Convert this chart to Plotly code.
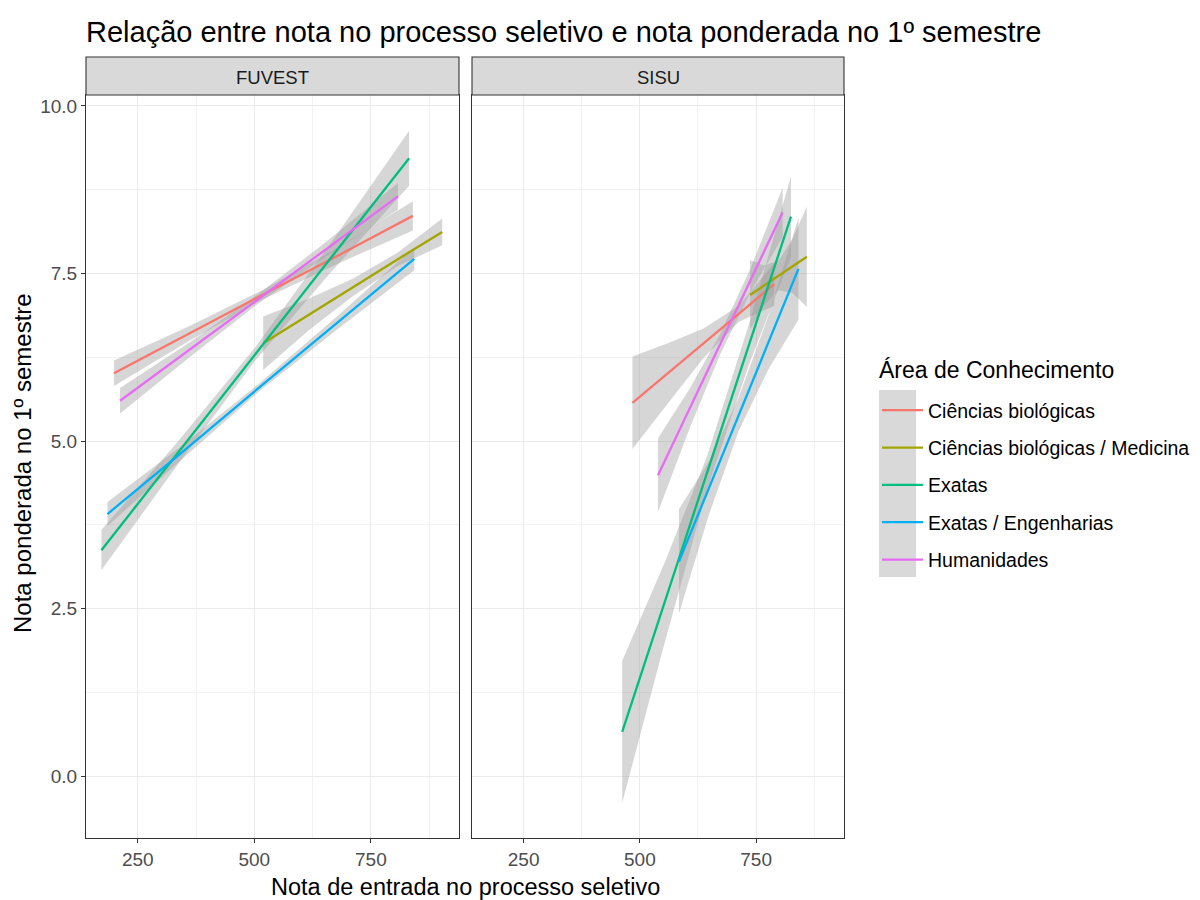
import plotly.graph_objects as go

# ---------------- data ----------------
areas = ["Ciências biológicas", "Ciências biológicas / Medicina", "Exatas",
         "Exatas / Engenharias", "Humanidades"]
colors = ["#F8766D", "#A3A500", "#00BF7D", "#00B0F6", "#E76BF3"]
panels = ["FUVEST", "SISU"]

# FUVEST
fuvest_bio_x = [199, 359, 520, 680, 840]
fuvest_bio_fit = [6.01, 6.60, 7.19, 7.77, 8.36]
fuvest_bio_lo = [5.82, 6.49, 7.12, 7.65, 8.14]
fuvest_bio_hi = [6.20, 6.71, 7.26, 7.89, 8.58]

fuvest_med_x = [519, 615, 711, 807, 903]
fuvest_med_fit = [6.46, 6.88, 7.29, 7.71, 8.12]
fuvest_med_lo = [6.06, 6.64, 7.16, 7.61, 7.92]
fuvest_med_hi = [6.86, 7.12, 7.42, 7.81, 8.32]

fuvest_exa_x = [172, 337, 502, 667, 832]
fuvest_exa_fit = [3.37, 4.83, 6.30, 7.76, 9.22]
fuvest_exa_lo = [3.07, 4.66, 6.20, 7.54, 8.81]
fuvest_exa_hi = [3.67, 5.00, 6.40, 7.98, 9.63]

fuvest_eng_x = [185, 350, 514, 679, 843]
fuvest_eng_fit = [3.91, 4.86, 5.82, 6.77, 7.72]
fuvest_eng_lo = [3.73, 4.76, 5.76, 6.67, 7.55]
fuvest_eng_hi = [4.09, 4.96, 5.88, 6.87, 7.89]

fuvest_hum_x = [212, 361, 510, 659, 808]
fuvest_hum_fit = [5.60, 6.36, 7.13, 7.89, 8.65]
fuvest_hum_lo = [5.41, 6.25, 7.06, 7.78, 8.45]
fuvest_hum_hi = [5.79, 6.47, 7.20, 8.00, 8.85]

# SISU
sisu_bio_x = [484, 560, 637, 713, 789]
sisu_bio_fit = [5.57, 6.01, 6.46, 6.90, 7.34]
sisu_bio_lo = [4.88, 5.56, 6.24, 6.78, 7.02]
sisu_bio_hi = [6.26, 6.46, 6.68, 7.02, 7.66]

sisu_med_x = [737, 767, 798, 828, 859]
sisu_med_fit = [7.18, 7.32, 7.47, 7.61, 7.75]
sisu_med_lo = [6.66, 7.02, 7.25, 7.21, 7.00]
sisu_med_hi = [7.70, 7.62, 7.69, 8.01, 8.50]

sisu_exa_x = [462, 553, 644, 734, 825]
sisu_exa_fit = [0.66, 2.58, 4.51, 6.43, 8.35]
sisu_exa_lo = [-0.40, 1.98, 4.26, 6.13, 7.75]
sisu_exa_hi = [1.72, 3.18, 4.76, 6.73, 8.95]

sisu_eng_x = [584, 648, 712, 777, 841]
sisu_eng_fit = [3.20, 4.29, 5.39, 6.48, 7.57]
sisu_eng_lo = [2.42, 3.89, 5.14, 6.08, 6.81]
sisu_eng_hi = [3.98, 4.69, 5.64, 6.88, 8.33]

sisu_hum_x = [539, 606, 673, 740, 807]
sisu_hum_fit = [4.49, 5.47, 6.45, 7.43, 8.41]
sisu_hum_lo = [3.94, 5.17, 6.30, 7.25, 8.04]
sisu_hum_hi = [5.04, 5.77, 6.60, 7.61, 8.78]

series = {
    "FUVEST": [
        (fuvest_bio_x, fuvest_bio_fit, fuvest_bio_lo, fuvest_bio_hi),
        (fuvest_med_x, fuvest_med_fit, fuvest_med_lo, fuvest_med_hi),
        (fuvest_exa_x, fuvest_exa_fit, fuvest_exa_lo, fuvest_exa_hi),
        (fuvest_eng_x, fuvest_eng_fit, fuvest_eng_lo, fuvest_eng_hi),
        (fuvest_hum_x, fuvest_hum_fit, fuvest_hum_lo, fuvest_hum_hi),
    ],
    "SISU": [
        (sisu_bio_x, sisu_bio_fit, sisu_bio_lo, sisu_bio_hi),
        (sisu_med_x, sisu_med_fit, sisu_med_lo, sisu_med_hi),
        (sisu_exa_x, sisu_exa_fit, sisu_exa_lo, sisu_exa_hi),
        (sisu_eng_x, sisu_eng_fit, sisu_eng_lo, sisu_eng_hi),
        (sisu_hum_x, sisu_hum_fit, sisu_hum_lo, sisu_hum_hi),
    ],
}

# ---------------- figure ----------------
FONT = "Liberation Sans, Arial, sans-serif"
fig = go.Figure()

axes = {"FUVEST": ("x", "y"), "SISU": ("x2", "y2")}
for p in panels:
    xa, ya = axes[p]
    # ribbons first
    for (x, fit, lo, hi) in series[p]:
        fig.add_trace(go.Scatter(
            x=list(x) + list(x)[::-1], y=list(hi) + list(lo)[::-1],
            fill="toself", fillcolor="rgba(153,153,153,0.4)",
            line=dict(width=0), mode="lines", hoverinfo="skip",
            showlegend=False, xaxis=xa, yaxis=ya))
    for i, (x, fit, lo, hi) in enumerate(series[p]):
        fig.add_trace(go.Scatter(
            x=x, y=fit, mode="lines", name=areas[i],
            line=dict(color=colors[i], width=2.3),
            legendgroup=areas[i], showlegend=(p == "FUVEST"),
            xaxis=xa, yaxis=ya))

ML, MR, MT, MB = 86, 356, 95, 62
W, H = 1200, 900
PW = W - ML - MR
PH = H - MT - MB

def px2x(px):
    return (px - ML) / PW

def py2y(py):
    return (H - MB - py) / PH

TICKFONT = dict(family=FONT, size=19, color="#4D4D4D")
xcommon = dict(range=[139, 939], tick0=0, dtick=250, tickmode="linear",
               showgrid=True, gridcolor="#EBEBEB", gridwidth=1.2,
               minor=dict(dtick=125, tick0=0, showgrid=True, gridcolor="#F2F2F2", gridwidth=0.6),
               showline=True, mirror=True, linecolor="#333333", linewidth=1.1,
               ticks="outside", ticklen=4, tickcolor="#333333", tickwidth=1.1,
               tickfont=TICKFONT, zeroline=False)
ycommon = dict(range=[-0.925, 10.164], tick0=0, dtick=2.5, tickmode="linear",
               tickformat=".1f",
               showgrid=True, gridcolor="#EBEBEB", gridwidth=1.2,
               minor=dict(dtick=1.25, tick0=0, showgrid=True, gridcolor="#F2F2F2", gridwidth=0.6),
               showline=True, mirror=True, linecolor="#333333", linewidth=1.1,
               tickcolor="#333333", tickwidth=1.1,
               tickfont=TICKFONT, zeroline=False)

d1 = [0, px2x(459)]
d2 = [px2x(472), 1]
fig.update_layout(
    width=W, height=H,
    margin=dict(l=ML, r=MR, t=MT, b=MB, autoexpand=False),
    paper_bgcolor="white", plot_bgcolor="white",
    xaxis=dict(domain=d1, **xcommon),
    xaxis2=dict(domain=d2, anchor="y2", **xcommon),
    yaxis=dict(domain=[0, 1], ticks="outside", ticklen=4, **ycommon),
    yaxis2=dict(domain=[0, 1], anchor="x2", ticks="", showticklabels=False, **ycommon),
    showlegend=True,
    legend=dict(
        x=px2x(877), y=py2y(391), xanchor="left", yanchor="top",
        font=dict(family=FONT, size=19.5, color="#000000"),
        bgcolor="rgba(0,0,0,0)", tracegroupgap=9, itemwidth=41,
    ),
    font=dict(family=FONT),
)

# strips
for p, d in zip(panels, [d1, d2]):
    fig.add_shape(type="rect", xref="paper", yref="paper",
                  x0=d[0], x1=d[1], y0=py2y(95), y1=py2y(57),
                  fillcolor="#D9D9D9", line=dict(color="#333333", width=1.1))
    fig.add_annotation(text=p, xref="paper", yref="paper",
                       x=(d[0] + d[1]) / 2, y=py2y(77), showarrow=False,
                       xanchor="center", yanchor="middle",
                       font=dict(family=FONT, size=18.5, color="#1A1A1A"))

# legend key background
fig.add_shape(type="rect", xref="paper", yref="paper",
              x0=px2x(879), x1=px2x(916), y0=py2y(577), y1=py2y(390),
              fillcolor="#D9D9D9", line=dict(width=0), layer="below")

# legend title
fig.add_annotation(text="Área de Conhecimento", xref="paper", yref="paper",
                   x=px2x(877), y=py2y(370), showarrow=False,
                   xanchor="left", yanchor="middle",
                   font=dict(family=FONT, size=23, color="#000000"))

# title & axis titles
fig.add_annotation(text="Relação entre nota no processo seletivo e nota ponderada no 1º semestre",
                   xref="paper", yref="paper", x=-0.002, y=py2y(32), showarrow=False,
                   xanchor="left", yanchor="middle",
                   font=dict(family=FONT, size=29, color="#000000"))
fig.add_annotation(text="Nota de entrada no processo seletivo",
                   xref="paper", yref="paper", x=px2x(465), y=py2y(887), showarrow=False,
                   xanchor="center", yanchor="middle",
                   font=dict(family=FONT, size=23.5, color="#000000"))
fig.add_annotation(text="Nota ponderada no 1º semestre",
                   xref="paper", yref="paper", x=px2x(22), y=py2y(463), showarrow=False,
                   xanchor="center", yanchor="middle", textangle=-90,
                   font=dict(family=FONT, size=24, color="#000000"))

fig.write_html("out.html")
